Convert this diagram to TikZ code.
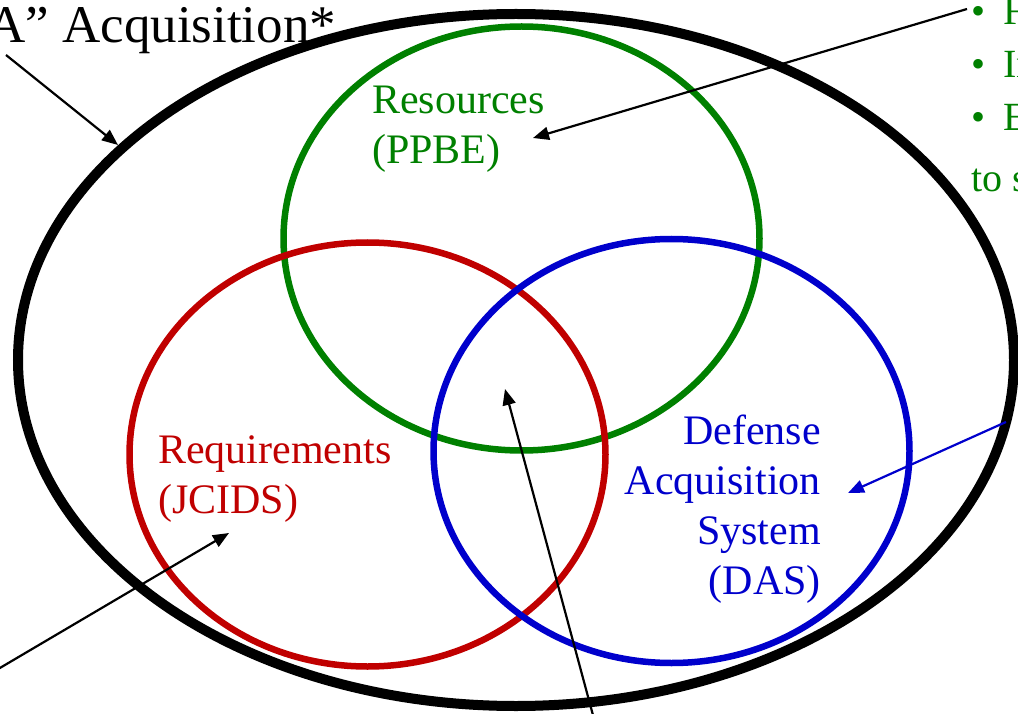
\documentclass[tikz,border=0pt]{standalone}
\usepackage{fontspec}
\setmainfont{Liberation Serif}
\usetikzlibrary{shapes.geometric,arrows.meta}

\definecolor{ppbegreen}{RGB}{0,128,0}
\definecolor{jcidsred}{RGB}{192,0,0}
\definecolor{dasblue}{RGB}{0,0,204}

\begin{document}
\begin{tikzpicture}[x=1pt,y=-1pt,
  ring/.style={draw, ellipse, inner sep=0pt, line width=6.5pt,
               minimum width=476pt, minimum height=424pt},
  ptr/.style={-{Triangle[length=16pt,width=13pt]}, line width=2.2pt},
  lbl/.style={inner sep=0pt, font=\fontsize{42}{50}\selectfont},
]
\useasboundingbox (0,0) rectangle (1018,714);
\clip (0,0) rectangle (1018,714);

% the whole acquisition enterprise
\node[draw, ellipse, inner sep=0pt, line width=10pt,
      minimum width=996pt, minimum height=692pt] (bigA) at (516,360) {};

% the three decision support systems
\node[ring, draw=ppbegreen] (ppbe)  at (521.5,238.5) {};
\node[ring, draw=jcidsred]  (jcids) at (367.5,454.5) {};
\node[ring, draw=dasblue]   (das)   at (671.5,451)   {};

% labels (multi-line labels are anchored at the baseline of their last line)
\node[lbl, anchor=base west, text=black, font=\fontsize{53}{60}\selectfont]
  (title) at (-13,43) {A” Acquisition*};
\node[lbl, anchor=base west, text=ppbegreen, align=left]
  (ppbetxt) at (372,164) {Resources\\(PPBE)};
\node[lbl, anchor=base west, text=jcidsred, align=left]
  (jcidstxt) at (158,513) {Requirements\\(JCIDS)};
\node[lbl, anchor=base east, text=dasblue, align=right]
  (dastxt) at (821,594) {Defense\\Acquisition\\System\\(DAS)};
\node[inner sep=0pt, anchor=base west, text=ppbegreen, align=left,
      font=\fontsize{40}{53}\selectfont]
  (notes) at (971,192) {\textbullet\hspace{0.45em}F\\\textbullet\hspace{0.45em}In\\\textbullet\hspace{0.45em}E\\[8pt]to s};

% pointer ends
\coordinate (titleEnd) at (6,55);
\coordinate (bigATip)  at (118,145);
\coordinate (notesEnd) at (967,9);
\coordinate (ppbeTip)  at (533,138);
\coordinate (dasEnd)   at (1006,422);
\coordinate (dasTip)   at (848,493);
\coordinate (reqEnd)   at (-12,675);
\coordinate (reqTip)   at (229,533);
\coordinate (coreEnd)  at (597,730);
\coordinate (coreTip)  at (505,389);

% pointers
\draw[ptr] (titleEnd) -- (bigATip);
\draw[ptr] (notesEnd) -- (ppbeTip);
\draw[ptr, draw=dasblue, fill=dasblue] (dasEnd) -- (dasTip);
\draw[ptr] (reqEnd) -- (reqTip);
\draw[ptr] (coreEnd) -- (coreTip);
\end{tikzpicture}
\end{document}
